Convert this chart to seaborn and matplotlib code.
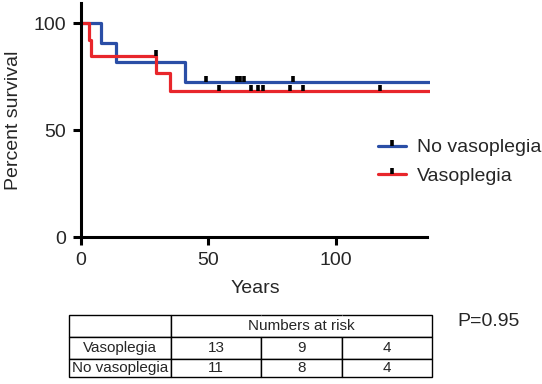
import numpy as np
import pandas as pd
import seaborn as sns
import matplotlib.pyplot as plt
from matplotlib.path import Path
from matplotlib.lines import Line2D

# step curves (time, percent survival)
novaso_times = [0, 8, 13.7, 41, 137]
novaso_surv = [100, 90.9, 81.8, 72.7, 72.7]
vaso_times = [0, 3.2, 4, 29.5, 35, 137]
vaso_surv = [100, 92.3, 84.6, 76.9, 68.4, 68.4]

# censored observations
novaso_censor = [49.2, 61.2, 62.6, 64, 83.4]
vaso_censor = [29.3, 54.3, 66.8, 69.6, 71.3, 82.1, 87.3, 117.4]

# numbers at risk
risk_rows = ["Vasoplegia", "No vasoplegia"]
vaso_risk = [13, 9, 4]
novaso_risk = [11, 8, 4]
risk_header = "Numbers at risk"
p_text = "P=0.95"

blue = "#2a4ea6"
red = "#e8262b"

sns.set_style("ticks")
plt.rcParams['font.family'] = ['Liberation Sans', 'DejaVu Sans']

fig = plt.figure(figsize=(5.42, 3.84), dpi=100)
ax = fig.add_axes([81/542, 1-237/384, (430-81)/542, (237-3)/384])

def step_at(times, surv, t):
    i = np.searchsorted(times, t, side='right') - 1
    return np.array(surv)[i]

tick_marker = Path([(0, 0), (0, 1)], [Path.MOVETO, Path.LINETO])

curves = pd.concat([
    pd.DataFrame({"t": novaso_times, "s": novaso_surv, "g": "No vasoplegia"}),
    pd.DataFrame({"t": vaso_times, "s": vaso_surv, "g": "Vasoplegia"}),
])
sns.lineplot(data=curves, x="t", y="s", hue="g", palette={"No vasoplegia": blue, "Vasoplegia": red},
             drawstyle="steps-post", lw=2.3, legend=False, ax=ax, estimator=None, sort=False)

for times, surv, cens in [(novaso_times, novaso_surv, novaso_censor), (vaso_times, vaso_surv, vaso_censor)]:
    ax.plot(cens, step_at(times, surv, cens), ls="none", marker=tick_marker,
            ms=8, mew=2.6, mec="black", zorder=4)

ax.set_xlim(0, 137)
ax.set_ylim(0, 109.5)
ax.set_xticks([0, 50, 100])
ax.set_yticks([0, 50, 100])
ax.set_xlabel("Years", fontsize=14, labelpad=8)
ax.set_ylabel("Percent survival", fontsize=14, labelpad=8)
ax.tick_params(labelsize=14, width=2.2, length=6, pad=5, color="black")
for s in ["top", "right"]:
    ax.spines[s].set_visible(False)
for s in ["left", "bottom"]:
    ax.spines[s].set_linewidth(2.2)
    ax.spines[s].set_color("black")
ax.spines["bottom"].set_bounds(0, 136)
ax.set_facecolor("none")

handles = [Line2D([], [], color=blue, lw=2.3, marker=tick_marker, ms=8, mew=2.6, mec="black"),
           Line2D([], [], color=red, lw=2.3, marker=tick_marker, ms=8, mew=2.6, mec="black")]
fig.legend(handles, ["No vasoplegia", "Vasoplegia"], loc="upper left",
           bbox_to_anchor=(368/542, 1-129/384), frameon=False, fontsize=14,
           handlelength=1.45, handletextpad=0.55, labelspacing=0.55, borderpad=0, numpoints=1)

# numbers at risk table
tax = fig.add_axes([69/542, 1-377/384, (432-69)/542, (377-315)/384])
tax.axis("off")
cells = [["", "", "", ""],
         [risk_rows[0]] + [str(v) for v in vaso_risk],
         [risk_rows[1]] + [str(v) for v in novaso_risk]]
col_w = [102, 90, 81, 90]
tbl = tax.table(cellText=cells, cellLoc="center", bbox=[0, 0, 1, 1], colWidths=col_w)
tbl.auto_set_font_size(False)
tbl.set_fontsize(11)
for (r, c), cell in tbl.get_celld().items():
    cell.set_linewidth(1.0)
    cell.set_edgecolor("black")
    cell.set_height(18 if r == 2 else 22)
tbl.get_celld()[(0, 1)].visible_edges = "BTL"
tbl.get_celld()[(0, 2)].visible_edges = "BT"
tbl.get_celld()[(0, 3)].visible_edges = "BTR"
tax.text((col_w[0] + sum(col_w)) / 2 / sum(col_w), 1 - 11/62, risk_header,
         fontsize=11, ha="center", va="center")

fig.text(489/542, 1-322/384, p_text, fontsize=14, ha="center", va="center")

fig.savefig("out.png", dpi=100)
